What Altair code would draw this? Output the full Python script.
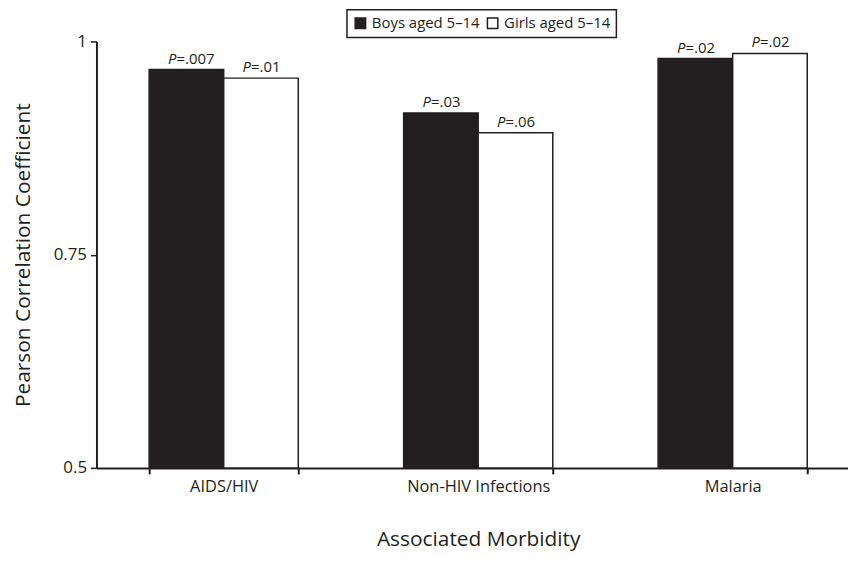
import altair as alt
import pandas as pd

categories = ["AIDS/HIV", "Non-HIV Infections", "Malaria"]
groups = ["Boys aged 5–14", "Girls aged 5–14"]
boys = [0.967, 0.916, 0.980]
girls = [0.957, 0.893, 0.986]
boys_p = ["=.007", "=.03", "=.02"]
girls_p = ["=.01", "=.06", "=.02"]
baseline = 0.5

rows = []
for c, v, p in zip(categories, boys, boys_p):
    rows.append({"cat": c, "grp": groups[0], "val": v, "p": p, "P": "P"})
for c, v, p in zip(categories, girls, girls_p):
    rows.append({"cat": c, "grp": groups[1], "val": v, "p": p, "P": "P"})
df = pd.DataFrame(rows)

FONT = "Open Sans"

x = alt.X("cat:N", sort=categories, title="Associated Morbidity",
          scale=alt.Scale(paddingInner=0.414, paddingOuter=0.207, range=[0, 768]),
          axis=alt.Axis(labelAngle=0, tickBand="extent", tickSize=6, tickWidth=2,
                        labelFontSize=16.5, labelPadding=5, titleFontSize=21,
                        titlePadding=34, domainWidth=2))
xo = alt.XOffset("grp:N", sort=groups)
y = alt.Y("val:Q", title="Pearson Correlation Coefficient",
          scale=alt.Scale(domain=[0.5, 1], nice=False, zero=False),
          axis=alt.Axis(values=[0.5, 0.75, 1], format="~g", tickSize=6, tickWidth=1.5,
                        labelFontSize=17, labelPadding=4, titleFontSize=21,
                        titlePadding=20, domainWidth=2, grid=False))

bars = alt.Chart(df).mark_bar(stroke="#231f20", strokeWidth=1.5).encode(
    x=x, xOffset=xo, y=y, y2=alt.datum(baseline),
    color=alt.Color("grp:N", sort=groups,
                    scale=alt.Scale(domain=groups, range=["#231f20", "#ffffff"]),
                    legend=alt.Legend(title=None, orient="none", legendX=252, legendY=-32,
                                      direction="horizontal", symbolType="square",
                                      symbolSize=110, symbolStrokeColor="#231f20",
                                      symbolStrokeWidth=1.5, labelFontSize=15,
                                      columnPadding=4, padding=6,
                                      strokeColor="#231f20", fillColor="white")),
)

ptxt = alt.Chart(df).mark_text(fontStyle="italic", fontSize=15, align="right",
                               baseline="bottom", dy=-3, dx=-10, font=FONT,
                               color="#231f20").encode(
    x=alt.X("cat:N", sort=categories), xOffset=xo, y="val:Q", text="P:N")
rtxt = alt.Chart(df).mark_text(fontSize=15, align="left", baseline="bottom",
                               dy=-3, dx=-10, font=FONT, color="#231f20").encode(
    x=alt.X("cat:N", sort=categories), xOffset=xo, y="val:Q", text="p:N")

chart = alt.layer(bars, ptxt, rtxt).properties(
    width=756, height=429,
    autosize=alt.AutoSizeParams(type="none"),
    padding={"left": 89, "top": 32, "right": 0, "bottom": 92},
).configure_view(stroke=None).configure_axis(
    labelFont=FONT, titleFont=FONT, labelColor="#231f20", titleColor="#231f20",
    domainColor="#231f20", tickColor="#231f20", titleFontWeight="normal",
).configure_legend(labelFont=FONT, labelColor="#231f20", strokeWidth=1.5)

chart.save("out.html", embed_options={"renderer": "svg", "actions": False})
